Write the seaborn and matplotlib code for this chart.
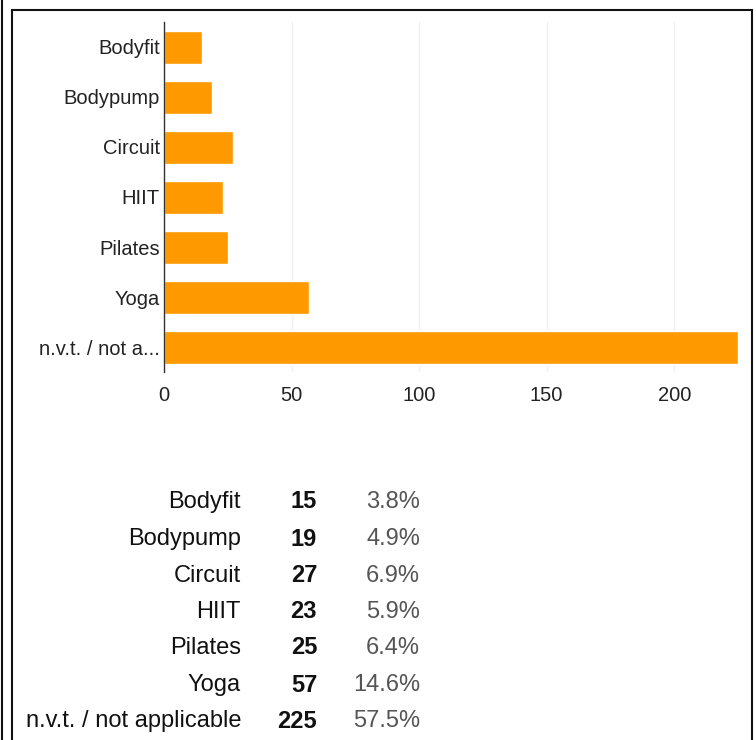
import matplotlib
matplotlib.use("Agg")
import matplotlib.pyplot as plt
import seaborn as sns
import pandas as pd
from matplotlib.patches import Rectangle
from matplotlib.lines import Line2D

categories = ["Bodyfit", "Bodypump", "Circuit", "HIIT", "Pilates", "Yoga", "n.v.t. / not applicable"]
axis_labels = ["Bodyfit", "Bodypump", "Circuit", "HIIT", "Pilates", "Yoga", "n.v.t. / not a..."]
counts = [15, 19, 27, 23, 25, 57, 225]
percents = ["3.8%", "4.9%", "6.9%", "5.9%", "6.4%", "14.6%", "57.5%"]
xticks = [0, 50, 100, 150, 200]

sns.set_style("white")
plt.rcParams['font.family'] = ['Liberation Sans', 'DejaVu Sans']

df = pd.DataFrame({"label": axis_labels, "count": counts})

fig = plt.figure(figsize=(7.56, 7.40), dpi=100)
W, H = 756, 740
ax = fig.add_axes([164 / W, 1 - 372 / H, (738 - 164) / W, (372 - 22) / H])

sns.barplot(data=df, y="label", x="count", orient="h", color="#FF9900",
            saturation=1, width=0.66, ax=ax, zorder=3)
ax.set_xlim(0, 225)
ax.set_ylim(6.5, -0.5)
ax.set_xticks(xticks)
ax.set_xticklabels([str(t) for t in xticks])
ax.grid(axis="x", color="#f0f0f0", linewidth=1, zorder=0)
ax.grid(axis="y", visible=False)
ax.set_xlabel("")
ax.set_ylabel("")
for s in ["top", "right", "bottom"]:
    ax.spines[s].set_visible(False)
ax.spines["left"].set_color("#333333")
ax.spines["left"].set_linewidth(1)
ax.spines["left"].set_zorder(5)
ax.tick_params(axis="both", length=0, labelsize=14.5, colors="#222222")
ax.tick_params(axis="x", pad=10)
ax.tick_params(axis="y", pad=3)
for t in ax.get_xticklabels() + ax.get_yticklabels():
    t.set_color("#222222")

# frame
fig.patches.append(Rectangle((12 / W, -0.05), (752 - 12) / W, 1.05 - 10 / H,
                             transform=fig.transFigure, fill=False,
                             edgecolor="#111111", linewidth=1.5))
fig.lines.append(Line2D([2 / W, 2 / W], [0, 1], transform=fig.transFigure,
                        color="#111111", linewidth=1.5))

# table
row_y = [502, 539, 576, 612, 648, 685, 721]
for cat, c, p, y in zip(categories, counts, percents, row_y):
    fy = 1 - y / H
    fig.text(241 / W, fy, cat, ha="right", va="center", fontsize=17, color="#111111")
    fig.text(317 / W, fy, str(c), ha="right", va="center", fontsize=17,
             fontweight="bold", color="#111111")
    fig.text(420 / W, fy, p, ha="right", va="center", fontsize=17, color="#555555")

fig.savefig("out.png", dpi=100)
